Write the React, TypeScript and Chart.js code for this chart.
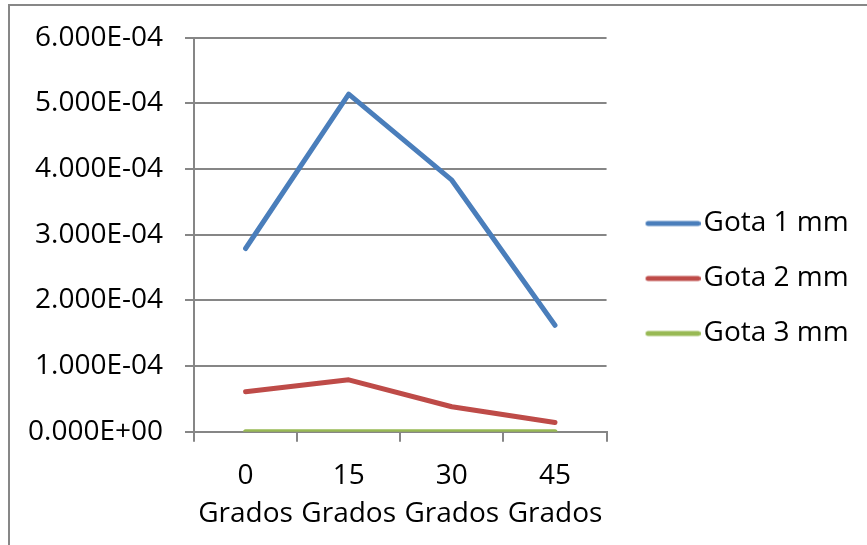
import React, { useEffect, useRef } from "react";
import { Chart, registerables } from "chart.js";

Chart.register(...registerables);

const categories: string[][] = [
  ["0", "Grados"],
  ["15", "Grados"],
  ["30", "Grados"],
  ["45", "Grados"],
];
const seriesNames = ["Gota 1 mm", "Gota 2 mm", "Gota 3 mm"];
const gota1 = [2.79e-4, 5.14e-4, 3.83e-4, 1.62e-4];
const gota2 = [0.61e-4, 0.79e-4, 0.38e-4, 0.14e-4];
const gota3 = [0.0, 0.0, 0.0, 0.0];
const seriesColors = ["#4A7EBB", "#BE4B48", "#98B954"];
const yMin = 0;
const yMax = 6e-4;
const yStep = 1e-4;

function sci(v: number): string {
  const [m, e] = v.toExponential(3).split("e");
  const n = parseInt(e, 10);
  const sign = n < 0 ? "-" : "+";
  return `${m}E${sign}${String(Math.abs(n)).padStart(2, "0")}`;
}

function legendMarker(color: string): HTMLCanvasElement {
  const c = document.createElement("canvas");
  c.width = 78;
  c.height = 8;
  const ctx = c.getContext("2d")!;
  ctx.strokeStyle = color;
  ctx.lineWidth = 5;
  ctx.lineCap = "round";
  ctx.beginPath();
  ctx.moveTo(23 + 2.5, 4);
  ctx.lineTo(78 - 2.5, 4);
  ctx.stroke();
  return c;
}

export default function App() {
  const ref = useRef<HTMLCanvasElement | null>(null);
  useEffect(() => {
    if (!ref.current) return;
    const font = { family: "'Open Sans', sans-serif", size: 28 };
    const data = [gota1, gota2, gota3];
    const chart = new Chart(ref.current, {
      type: "line",
      data: {
        labels: categories,
        datasets: seriesNames.map((name, i) => ({
          label: name,
          data: data[i],
          borderColor: seriesColors[i],
          backgroundColor: seriesColors[i],
          borderWidth: 5,
          borderCapStyle: "round" as const,
          borderJoinStyle: "round" as const,
          pointRadius: 0,
          pointHoverRadius: 0,
          pointStyle: legendMarker(seriesColors[i]),
          tension: 0,
        })),
      },
      options: {
        responsive: false,
        animation: false,
        layout: { padding: { left: 13, top: 6, right: 8.3, bottom: 0 } },
        plugins: {
          tooltip: { enabled: false },
          legend: {
            position: "right",
            maxWidth: 300,
            labels: {
              usePointStyle: true,
              pointStyleWidth: 56,
              padding: 27,
              color: "#000",
              font,
            },
          },
        },
        scales: {
          x: {
            type: "category",
            offset: true,
            afterFit: (scale: any) => {
              scale.height = 113.3;
            },
            grid: {
              display: true,
              offset: true,
              drawOnChartArea: false,
              drawTicks: true,
              tickLength: 10,
              color: "#868686",
              lineWidth: 2,
            },
            border: { display: true, color: "#868686", width: 2 },
            ticks: {
              color: "#000",
              font: { ...font, lineHeight: 1.37 },
              padding: 15,
              maxRotation: 0,
              autoSkip: false,
            },
          },
          y: {
            min: yMin,
            max: yMax,
            afterFit: (scale: any) => {
              scale.width = 171;
              scale.paddingTop = 31.7;
              scale.paddingBottom = 0;
            },
            grid: {
              color: "#868686",
              lineWidth: 2,
              drawTicks: true,
              tickLength: 9,
            },
            border: { display: true, color: "#868686", width: 2 },
            ticks: {
              stepSize: yStep,
              color: "#000",
              font,
              padding: 22,
              callback: (v: any) => sci(Number(v)),
            },
          },
        },
      },
    });
    return () => chart.destroy();
  }, []);
  return (
    <>
      <style>{"html,body{margin:0;padding:0;overflow:hidden;}"}</style>
      <div
        style={{
          position: "absolute",
          left: 8,
          top: 4,
          width: 859,
          height: 541,
          borderLeft: "2px solid #878787",
          borderTop: "2px solid #878787",
          boxSizing: "border-box",
          background: "#fff",
        }}
      >
        <canvas ref={ref} width={857} height={539} style={{ display: "block" }} />
      </div>
    </>
  );
}
